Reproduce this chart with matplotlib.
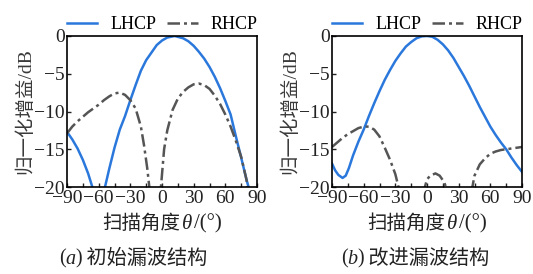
import matplotlib
matplotlib.use('Agg')
import matplotlib.pyplot as plt
import numpy as np
from matplotlib.offsetbox import TextArea, HPacker, AnchoredOffsetbox

# 读图估计的数据（扫描角度 / 归一化增益 dB）
ang_a_l = [-90, -85, -80, -75, -70, -66, -63, -60, -57, -54, -50, -45, -40, -35, -30, -25, -20,
           -15, -10, -5, 0, 5, 12, 20, 25, 30, 35, 40, 45, 50, 55, 60, 65, 70, 75, 80, 82, 85]
lhcp_a = [-12.7, -13.7, -14.9, -16.4, -18.2, -20.0, -23.0, -25.0, -23.0, -20.0, -17.6, -14.8, -12.4,
          -10.6, -8.5, -6.5, -4.6, -3.2, -2.2, -1.2, -0.6, -0.2, 0.0, -0.3, -0.7, -1.3, -2.1, -3.0,
          -4.1, -5.4, -6.9, -8.6, -10.4, -13.3, -16.1, -19.0, -20.0, -23.0]

ang_a_r = [-90, -85, -80, -75, -70, -65, -60, -55, -50, -45, -40, -35, -30, -25, -20, -17, -14, -12,
           -10, -5, -1, 2, 5, 10, 15, 20, 25, 30, 35, 40, 45, 50, 55, 60, 65, 70, 75, 80, 81, 83]
rhcp_a = [-12.9, -12.0, -11.3, -10.7, -10.1, -9.6, -9.1, -8.5, -8.0, -7.6, -7.5, -7.8, -8.5, -9.6,
          -12.0, -14.5, -17.5, -20.0, -25.0, -30.0, -20.0, -15.0, -12.5, -9.8, -8.3, -7.4, -6.8,
          -6.4, -6.3, -6.5, -7.0, -7.9, -9.0, -10.4, -12.0, -13.9, -16.0, -19.0, -20.0, -23.0]

ang_b_l = [-90, -87, -84, -80, -77, -74, -70, -65, -60, -55, -50, -45, -40, -35, -30, -25, -20, -15,
           -10, -5, 0, 5, 10, 15, 20, 25, 30, 35, 40, 45, 50, 55, 60, 65, 70, 75, 80, 85, 90]
lhcp_b = [-16.9, -17.8, -18.4, -18.8, -18.5, -17.5, -15.8, -14.0, -12.4, -10.6, -8.9, -7.3, -5.8,
          -4.5, -3.3, -2.3, -1.4, -0.8, -0.3, -0.05, 0.0, -0.1, -0.5, -1.1, -1.9, -2.9, -4.1, -5.3,
          -6.6, -8.0, -9.4, -10.7, -12.0, -13.1, -14.1, -15.0, -16.1, -17.1, -18.0]

ang_b_r = [-90, -85, -80, -75, -70, -65, -60, -55, -50, -45, -40, -35, -30, -27, -24, -15, -5, -2, 0,
           3, 8, 12, 16, 18, 25, 35, 43, 45, 50, 55, 60, 65, 70, 75, 80, 85, 90]
rhcp_b = [-14.7, -14.1, -13.5, -13.0, -12.6, -12.2, -12.0, -12.0, -12.4, -13.3, -14.8, -16.4, -18.3,
          -20.0, -24.0, -30.0, -26.0, -20.0, -19.0, -18.5, -18.2, -18.5, -19.3, -20.0, -26.0, -26.0,
          -20.0, -18.5, -17.0, -16.2, -15.6, -15.3, -15.1, -15.0, -14.9, -14.8, -14.7]

captions = ['初始漏波结构', '改进漏波结构']
letters = ['a', 'b']
xticks = [-90, -60, -30, 0, 30, 60, 90]
yticks = [0, -5, -10, -15, -20]

blue = '#2b78dc'
gray = '#555555'
txt = '#222222'
serif = 'Liberation Serif'
cjk = 'Noto Sans CJK SC'

plt.rcParams['font.family'] = [serif, cjk]
plt.rcParams['axes.unicode_minus'] = True

fig = plt.figure(figsize=(5.33, 2.74), dpi=100)
lefts = [67 / 533, 332 / 533]
cap_x = [133 / 533, 415 / 533]

data = [(ang_a_l, lhcp_a, ang_a_r, rhcp_a), (ang_b_l, lhcp_b, ang_b_r, rhcp_b)]

for i, (xl, yl, xr, yr) in enumerate(data):
    ax = fig.add_axes([lefts[i], 1 - 187 / 274, 190 / 533, 151 / 274])
    ax.plot(xl, yl, color=blue, lw=1.8, label='LHCP')
    ax.plot(xr, yr, color=gray, lw=1.8, ls=(0, (5, 1.6, 1.2, 1.6)), label='RHCP')
    ax.set_xlim(-90, 90)
    ax.set_ylim(-20, 0)
    ax.set_xticks(xticks)
    ax.set_xticks(np.arange(-75, 90, 30), minor=True)
    ax.set_yticks(yticks)
    ax.tick_params(which='both', direction='in', length=3, width=1, labelsize=14, pad=1.5,
                   colors=txt)
    ax.tick_params(axis='x', pad=2.5)
    for s in ax.spines.values():
        s.set_linewidth(1.2)
    ax.set_ylabel('归一化增益/dB', fontsize=14, color='#3a3a3a', labelpad=0)

    # x label: 扫描角度 θ/(°)
    xlab = HPacker(children=[
        TextArea('扫描角度', textprops=dict(family=[cjk], fontsize=14, color=txt)),
        TextArea('θ', textprops=dict(family=[serif], style='italic', fontsize=15, color=txt)),
        TextArea('/(°)', textprops=dict(family=[serif], fontsize=15, color=txt)),
    ], align='baseline', pad=0, sep=1)
    ab = AnchoredOffsetbox(loc='upper center', child=xlab, frameon=False, pad=0, borderpad=0,
                           bbox_to_anchor=(0.5, -0.17), bbox_transform=ax.transAxes)
    ax.add_artist(ab)

    ax.legend(loc='lower center', bbox_to_anchor=(0.5, 1.0), ncol=2, frameon=False,
              fontsize=13, handlelength=1.7, handletextpad=0.7, columnspacing=0.6,
              borderpad=0, borderaxespad=0.15)

    cap = HPacker(children=[
        TextArea('(', textprops=dict(family=[serif], fontsize=14.5, color=txt)),
        TextArea(letters[i], textprops=dict(family=[serif], style='italic', fontsize=14.5, color=txt)),
        TextArea(')', textprops=dict(family=[serif], fontsize=14.5, color=txt)),
        TextArea(' ' + captions[i], textprops=dict(family=[cjk], fontsize=14.5, color=txt)),
    ], align='baseline', pad=0, sep=0)
    cb = AnchoredOffsetbox(loc='center', child=cap, frameon=False, pad=0, borderpad=0,
                           bbox_to_anchor=(cap_x[i], 1 - 258 / 274), bbox_transform=fig.transFigure)
    fig.add_artist(cb)

fig.savefig('out.png', dpi=100)
